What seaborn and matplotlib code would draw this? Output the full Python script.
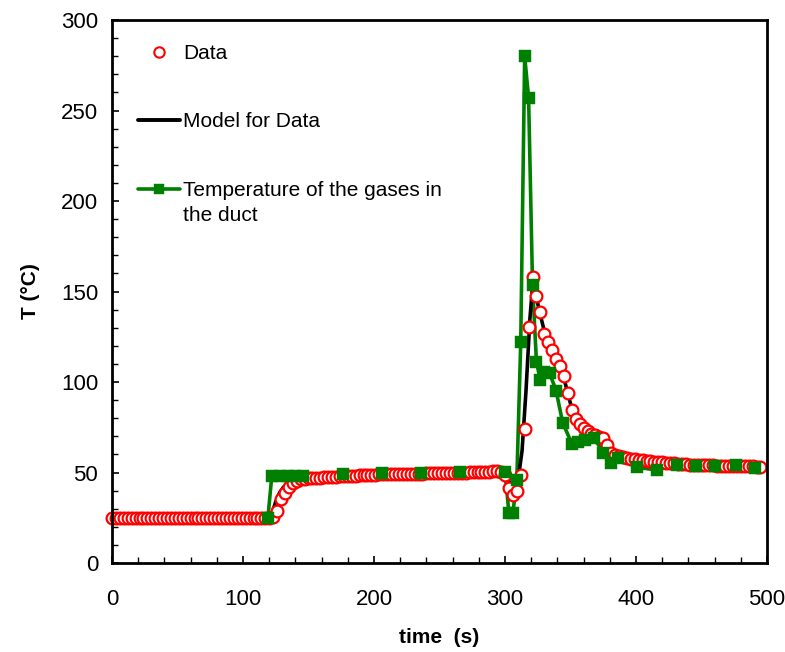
import numpy as np
import pandas as pd
import matplotlib
matplotlib.use("Agg")
import matplotlib.pyplot as plt
from matplotlib.lines import Line2D
from matplotlib.ticker import MultipleLocator
import seaborn as sns

# ---------------- data ----------------
data_time = list(range(0, 498, 3))
data_temp = ([25.0] * 41 +
             [25.5, 28.7, 35.2, 38.8, 42.0, 44.0, 45.5, 46.2, 46.5, 46.8,
              47.0, 47.0, 47.2, 47.3, 47.4, 47.5, 47.6, 47.8, 48.0, 48.0,
              48.2, 48.3, 48.5, 48.6, 48.7, 48.8, 48.8, 49.0, 49.0, 49.0,
              49.0, 49.0, 49.1, 49.2, 49.2, 49.3, 49.3, 49.3, 49.4, 49.5,
              49.5, 49.5, 49.6, 49.6, 49.7, 49.8, 49.8, 49.9, 50.0, 50.0,
              50.1, 50.2, 50.3, 50.4, 50.5, 50.5, 50.6, 50.6, 50.5, 48.6,
              41.2, 37.6, 40.0, 48.6, 74.0, 130.6, 157.8, 147.7, 138.5, 126.3,
              122.3, 117.7, 112.5, 108.8, 103.5, 94.0, 84.5, 79.4, 76.8, 74.8,
              72.9, 71.5, 70.5, 69.8, 69.0, 65.0, 60.6, 59.8, 59.2, 58.5,
              58.0, 57.6, 57.2, 57.0, 56.8, 56.5, 56.2, 56.0, 55.8, 55.6,
              55.4, 55.2, 55.0, 54.8, 54.6, 54.5, 54.4, 54.3, 54.2, 54.1,
              54.0, 54.0, 53.9, 53.8, 53.8, 53.7, 53.7, 53.6, 53.6, 53.5,
              53.5, 53.4, 53.4, 53.3, 53.3])

model_time = [0, 120, 122, 125, 128, 131, 135, 140, 150, 175, 200, 250, 290,
              298, 301, 304, 307, 310, 313, 316, 319, 321, 323, 326, 330, 335,
              340, 345, 350, 355, 360, 365, 370, 375, 380, 385, 390, 400, 420,
              450, 500]
model_temp = [25, 25, 27, 34, 39, 42, 44.5, 46, 47, 48, 49, 49.5, 50.5,
              50, 47.5, 44, 42, 46, 62, 95, 135, 153, 150, 140, 128, 118,
              110, 102, 88, 78, 74, 71.5, 69.5, 67, 62, 59.5, 58, 56.5, 55,
              54, 53.5]

gas_time = [119, 122, 128, 134, 140, 146, 176, 206, 236, 266, 300, 303, 306,
            309, 312, 315, 318, 321, 324, 327, 330, 334, 339, 344, 351, 356,
            361, 368, 375, 381, 386, 401, 416, 431, 446, 460, 476, 491, 500]
gas_temp = [25, 48.3, 48.3, 48.3, 48.3, 48.3, 49.3, 49.7, 49.9, 50.4, 50.4,
            27.5, 27.5, 45.9, 122, 280, 257, 153.6, 111, 101, 105.7, 105,
            95.2, 77.5, 66, 67, 68, 69, 61, 55, 57.8, 52.8, 51.4, 54.3, 53.4,
            53.4, 54.3, 52.5, 53.5]

labels = ["Data", "Model for Data", "Temperature of the gases in"]
label_extra = "the duct"

# ---------------- style ----------------
sns.set_theme(style="white")
plt.rcParams["font.family"] = ["Liberation Sans", "DejaVu Sans"]
plt.rcParams["text.color"] = "black"
plt.rcParams["axes.labelcolor"] = "black"
plt.rcParams["xtick.color"] = "black"
plt.rcParams["ytick.color"] = "black"
plt.rcParams["axes.linewidth"] = 2.0

fig = plt.figure(figsize=(7.85, 6.52), dpi=100)
ax = fig.add_axes([0.1427, 0.1365, 0.8344, 0.8328])

gas_df = pd.DataFrame({"time": gas_time, "temp": gas_temp})
model_df = pd.DataFrame({"time": model_time, "temp": model_temp})
data_df = pd.DataFrame({"time": data_time, "temp": data_temp})

# lines first (green, then black), then markers (circles, then squares)
sns.lineplot(data=gas_df, x="time", y="temp", ax=ax, color="#008000",
             linewidth=2.6, sort=False, estimator=None, zorder=1.5)
sns.lineplot(data=model_df, x="time", y="temp", ax=ax, color="black",
             linewidth=2.6, sort=False, estimator=None, zorder=2)
sns.scatterplot(data=data_df, x="time", y="temp", ax=ax, marker="o", s=72,
                facecolor="white", edgecolor="#ff0000", linewidth=1.6,
                zorder=3, clip_on=False)
sns.scatterplot(data=gas_df.iloc[:-1], x="time", y="temp", ax=ax, marker="s",
                s=80, color="#008000", edgecolor="#008000", linewidth=0.3,
                zorder=4)

ax.set_xlim(0, 500)
ax.set_ylim(0, 300)
ax.xaxis.set_major_locator(MultipleLocator(100))
ax.xaxis.set_minor_locator(MultipleLocator(20))
ax.yaxis.set_major_locator(MultipleLocator(50))
ax.yaxis.set_minor_locator(MultipleLocator(10))
ax.tick_params(axis="both", which="both", direction="in", top=False,
               right=False, bottom=True, left=True, colors="black",
               labelsize=16)
ax.tick_params(axis="both", which="major", length=5, width=1.2)
ax.tick_params(axis="both", which="minor", length=4, width=1.0)
ax.tick_params(axis="x", which="major", pad=19)
ax.tick_params(axis="y", which="major", pad=10)
for s in ax.spines.values():
    s.set_color("black")
    s.set_linewidth(2.0)
    s.set_zorder(5)

ax.set_xlabel("time  (s)", fontsize=15, fontweight="bold", labelpad=13)
ax.set_ylabel("T (°C)", fontsize=15, fontweight="bold", labelpad=15)

handles = [
    Line2D([], [], linestyle="none", marker="o", markersize=7.5,
           markerfacecolor="white", markeredgecolor="#ff0000",
           markeredgewidth=1.5),
    Line2D([], [], color="black", linewidth=2.8),
    Line2D([], [], color="#008000", linewidth=2.6, marker="s",
           markersize=7.5, markeredgewidth=0.3),
]
leg = ax.legend(handles, labels, loc="upper left",
                bbox_to_anchor=(0.0397, 0.956), frameon=False, fontsize=15,
                handlelength=2.0, handletextpad=0.15, labelspacing=2.38,
                borderpad=0, borderaxespad=0, numpoints=1)

fig.canvas.draw()
bb = leg.texts[2].get_window_extent(fig.canvas.get_renderer())
fw, fh = fig.bbox.width, fig.bbox.height
fig.text(bb.x0 / fw, (bb.y0 - 18 * fig.dpi / 72) / fh, label_extra,
         ha="left", va="bottom", fontsize=15, color="black")

fig.savefig("out.png", dpi=100)
